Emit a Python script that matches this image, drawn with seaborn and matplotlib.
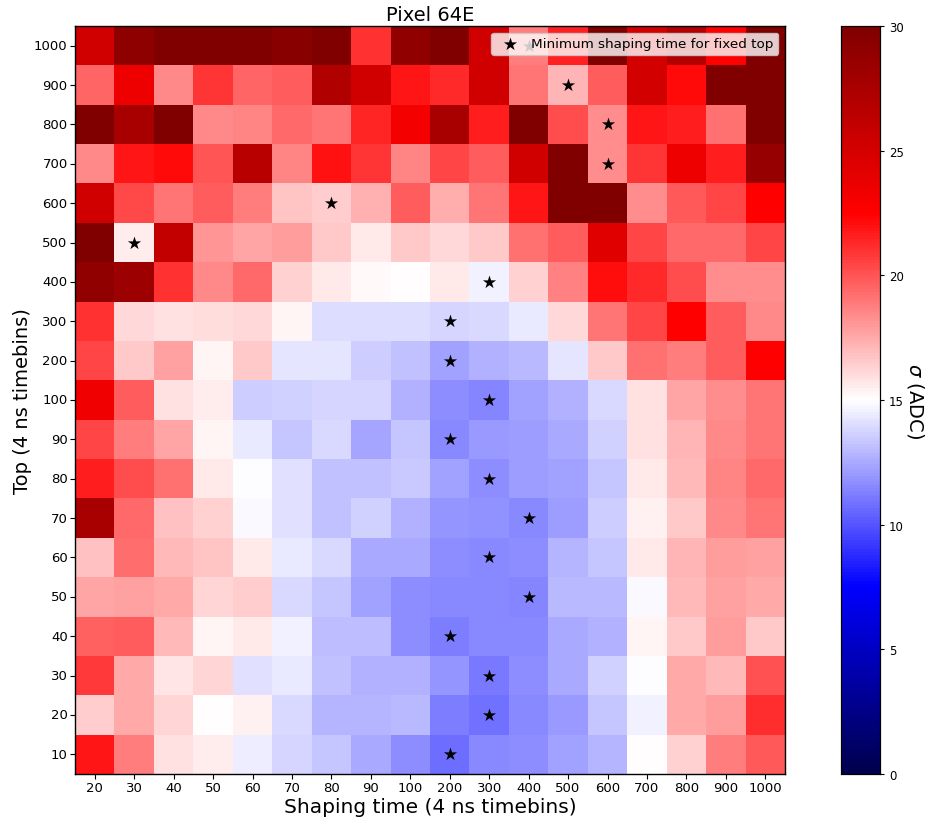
import numpy as np
import pandas as pd
import matplotlib
matplotlib.use("Agg")
import matplotlib.pyplot as plt
import seaborn as sns

# Shaping times (columns) and top values (rows, listed top to bottom)
shaping = [20, 30, 40, 50, 60, 70, 80, 90, 100, 200, 300, 400, 500, 600, 700, 800, 900, 1000]
tops = [1000, 900, 800, 700, 600, 500, 400, 300, 200, 100, 90, 80, 70, 60, 50, 40, 30, 20, 10]

# Noise sigma (ADC) for each top value, one list per row
s_1000 = [25.2, 29.1, 31.0, 31.0, 31.0, 29.5, 30.5, 21.0, 29.0, 30.5, 25.2, 18.75, 21.5, 30.5, 25.0, 27.0, 22.5, 30.5]
s_900 = [19.5, 23.5, 18.4, 20.9, 19.5, 19.7, 27.1, 25.2, 21.9, 21.3, 25.2, 19.0, 17.2, 19.8, 25.0, 22.2, 30.5, 30.5]
s_800 = [30.5, 27.6, 30.5, 18.5, 18.6, 19.4, 19.1, 21.4, 23.1, 27.6, 21.6, 30.5, 20.2, 18.3, 21.9, 21.6, 19.2, 30.5]
s_700 = [18.5, 21.9, 22.2, 20.0, 26.7, 18.6, 22.0, 20.9, 18.6, 20.4, 19.7, 25.2, 30.5, 18.3, 20.9, 23.5, 21.6, 28.7]
s_600 = [25.2, 20.3, 19.1, 19.7, 18.8, 16.7, 16.5, 17.25, 19.7, 17.4, 19.1, 21.9, 30.5, 30.5, 18.3, 19.9, 20.4, 22.5]
s_500 = [30.5, 15.5, 26.0, 18.1, 17.6, 17.9, 16.6, 15.7, 16.6, 16.1, 16.6, 19.2, 19.7, 24.3, 20.4, 19.4, 19.4, 20.4]
s_400 = [29.0, 28.3, 21.0, 18.4, 19.4, 16.3, 15.7, 15.2, 15.05, 15.6, 14.6, 16.4, 18.7, 22.1, 21.3, 20.2, 18.3, 18.3]
s_300 = [21.0, 16.1, 15.9, 16.0, 16.1, 15.3, 14.0, 14.0, 14.0, 13.8, 13.9, 14.3, 16.1, 19.0, 20.4, 22.5, 19.7, 18.4]
s_200 = [20.4, 16.6, 17.8, 15.3, 16.6, 14.2, 14.2, 13.5, 13.2, 12.3, 12.7, 12.9, 14.25, 16.6, 19.2, 18.8, 19.7, 22.5]
s_100 = [23.4, 19.7, 15.9, 15.5, 13.5, 13.6, 13.8, 13.8, 12.7, 11.7, 11.4, 12.2, 12.7, 13.9, 15.9, 17.6, 18.3, 19.0]
s_90 = [20.4, 18.75, 17.6, 15.3, 14.4, 13.3, 13.9, 12.4, 13.3, 11.5, 12.0, 12.1, 12.45, 13.6, 15.9, 17.2, 18.4, 19.0]
s_80 = [21.6, 20.2, 19.2, 15.7, 14.97, 14.1, 13.15, 13.2, 13.4, 12.2, 11.7, 12.1, 12.2, 13.3, 15.6, 17.0, 18.6, 19.4]
s_70 = [27.6, 19.4, 16.8, 16.4, 14.8, 14.1, 13.15, 13.6, 12.7, 11.9, 11.8, 11.5, 12.1, 13.5, 15.4, 16.6, 18.5, 19.0]
s_60 = [16.8, 19.3, 17.0, 16.7, 15.7, 14.3, 13.9, 12.45, 12.45, 11.7, 11.6, 11.7, 12.85, 13.3, 15.7, 17.2, 17.9, 17.8]
s_50 = [17.6, 17.8, 17.5, 16.2, 16.5, 13.9, 13.3, 12.2, 11.7, 11.55, 11.5, 11.4, 12.9, 12.9, 14.8, 17.1, 17.8, 17.5]
s_40 = [19.6, 19.8, 17.0, 15.3, 15.7, 14.55, 13.1, 13.1, 11.7, 11.2, 11.6, 11.6, 12.45, 12.7, 15.3, 16.6, 17.9, 16.6]
s_30 = [20.8, 17.5, 15.8, 16.2, 14.1, 14.3, 13.15, 12.7, 12.7, 11.9, 11.1, 11.7, 12.45, 13.7, 14.97, 17.5, 17.0, 20.1]
s_20 = [16.5, 17.5, 16.2, 15.1, 15.4, 13.9, 12.85, 12.85, 13.0, 11.2, 10.8, 11.5, 12.0, 13.3, 14.6, 17.5, 17.9, 21.2]
s_10 = [21.9, 18.75, 15.9, 15.5, 14.5, 13.8, 13.3, 12.5, 11.7, 10.7, 11.5, 11.7, 12.2, 12.85, 15.0, 16.4, 18.75, 19.9]

sigma = pd.DataFrame(
    [s_1000, s_900, s_800, s_700, s_600, s_500, s_400, s_300, s_200, s_100,
     s_90, s_80, s_70, s_60, s_50, s_40, s_30, s_20, s_10],
    index=tops, columns=shaping,
)

fig = plt.figure(figsize=(9.31, 8.20), dpi=100)
ax = fig.add_axes([75 / 931, 45 / 820, 710 / 931, 748 / 820])
cax = fig.add_axes([841 / 931, 45 / 820, 39 / 931, 748 / 820])

sns.heatmap(sigma, ax=ax, cbar_ax=cax, cmap="seismic", vmin=0, vmax=30,
            square=False, linewidths=0)

# Mark the shaping time giving the lowest sigma for each top value
best_col = np.argmin(sigma.values, axis=1)
ax.scatter(best_col + 0.5, np.arange(len(tops)) + 0.5, marker="*", s=100,
           color="black", linewidths=0, zorder=3,
           label="Minimum shaping time for fixed top")

for side in ax.spines.values():
    side.set_visible(True)
    side.set_linewidth(1.0)

ax.set_xticks(np.arange(len(shaping)) + 0.5)
ax.set_xticklabels([str(v) for v in shaping], rotation=0, fontsize=9.5)
ax.set_yticks(np.arange(len(tops)) + 0.5)
ax.set_yticklabels([str(v) for v in tops], rotation=0, fontsize=9.5)
ax.tick_params(axis="both", length=3.5, width=0.8, pad=1.8)

ax.set_xlabel("Shaping time (4 ns timebins)", fontsize=14.5, labelpad=2)
ax.set_ylabel("Top (4 ns timebins)", fontsize=14, labelpad=1.5)
ax.set_title("Pixel 64E", fontsize=14, pad=4)

leg = ax.legend(loc="upper right", fontsize=9.7, framealpha=0.8,
                borderaxespad=0.5, borderpad=0.35, handletextpad=0.6)

cax.set_yticks([0, 5, 10, 15, 20, 25, 30])
cax.tick_params(labelsize=8.5, length=3, width=0.8)
cax.set_ylabel(r"$\sigma$ (ADC)", fontsize=14, rotation=270, labelpad=16)
for side in cax.spines.values():
    side.set_visible(True)
    side.set_linewidth(0.8)

fig.savefig("out.png", dpi=100)
